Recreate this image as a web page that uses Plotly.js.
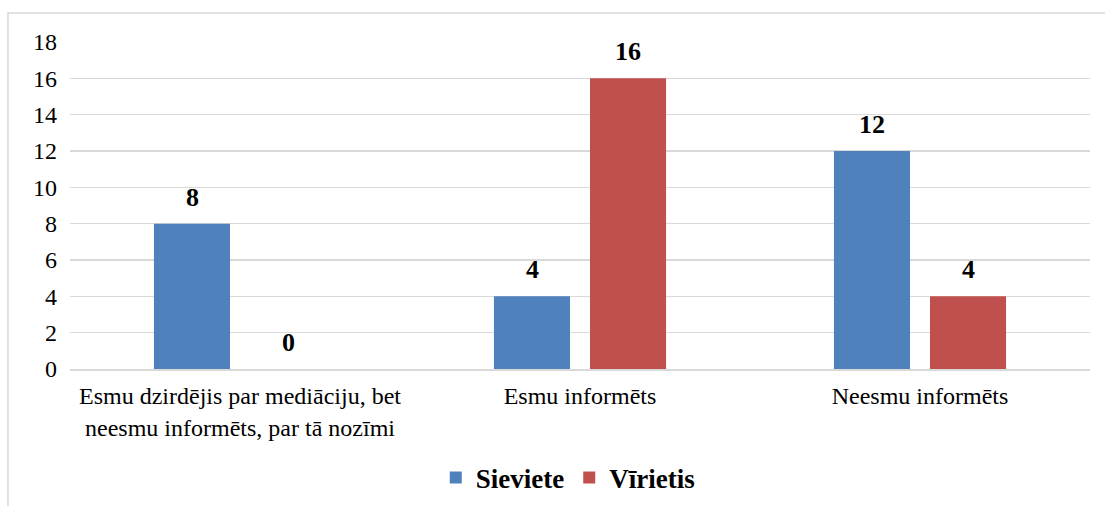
<!DOCTYPE html>
<html>
<head>
<meta charset="utf-8">
<script src="https://cdn.plot.ly/plotly-3.0.1.min.js"></script>
<style>body{margin:0;padding:0;background:#fff;}#chart{width:1105px;height:506px;}</style>
</head>
<body>
<div id="chart"></div>
<script>
const categories = ["Esmu dzirdējis par mediāciju, bet<br>neesmu informēts, par tā nozīmi", "Esmu informēts", "Neesmu informēts"];
const seriesNames = ["Sieviete", "Vīrietis"];
const sieviete = [8, 4, 12];
const virietis = [0, 16, 4];
const colors = ["#4f81bd", "#c0504d"];
const yTicks = [0, 2, 4, 6, 8, 10, 12, 14, 16, 18];

const FONT = "Liberation Serif";
const traces = [sieviete, virietis].map((vals, i) => ({
  type: "bar", name: seriesNames[i], x: categories, y: vals,
  marker: {color: colors[i]}, hoverinfo: "skip"
}));

const annotations = [];
[sieviete, virietis].forEach((vals, i) => {
  vals.forEach((v, j) => {
    annotations.push({
      x: categories[j], y: v, xref: "x", yref: "y",
      text: "<b>" + v + "</b>", showarrow: false,
      yanchor: "bottom", yshift: 10, xshift: i === 0 ? -48 : 48,
      font: {family: FONT, size: 26, color: "#000"}
    });
  });
});

const layout = {
  width: 1105, height: 506,
  margin: {l: 70, r: 15, t: 42, b: 137, autoexpand: false},
  paper_bgcolor: "#fff", plot_bgcolor: "#fff",
  barmode: "group", bargap: 0.435, bargroupgap: 0.208,
  font: {family: FONT, size: 24, color: "#000"},
  xaxis: {showgrid: false, showline: true, linecolor: "#d9d9d9", linewidth: 1.5,
    automargin: false, ticks: "", ticklabelstandoff: 5,
    tickfont: {family: FONT, size: 24, color: "#000"}, fixedrange: true},
  yaxis: {range: [0, 18], tickvals: yTicks, ticktext: yTicks.map(String),
    automargin: false,
    showgrid: true, gridcolor: "#d9d9d9", gridwidth: 1.5, zeroline: false,
    showline: false, ticks: "", ticklabelstandoff: 12,
    tickfont: {family: FONT, size: 24, color: "#000"}, fixedrange: true},
  showlegend: true,
  legend: {orientation: "h", x: 0.488, xanchor: "center", y: -0.333, yanchor: "middle",
    font: {family: FONT, size: 27, color: "#000", weight: "bold"}, itemwidth: 30},
  annotations: annotations,
  shapes: [{type: "rect", xref: "paper", yref: "paper",
    x0: -0.0608, x1: 1.1, y0: -0.6, y1: 1.0887,
    line: {color: "#d9d9d9", width: 1.5}, fillcolor: "rgba(0,0,0,0)", layer: "below"}]
};

Plotly.newPlot("chart", traces, layout, {displayModeBar: false, staticPlot: true});
</script>
</body>
</html>
